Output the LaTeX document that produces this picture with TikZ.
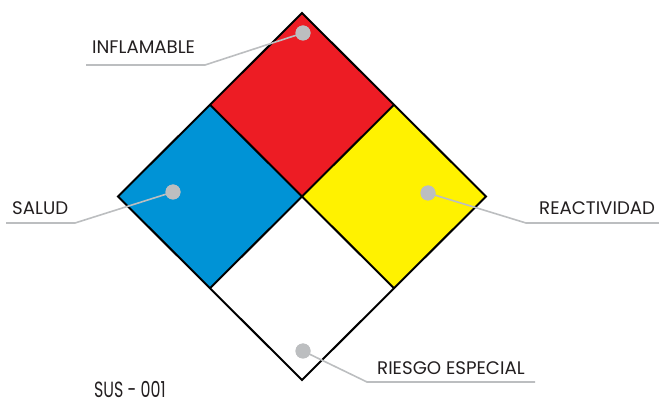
\documentclass[tikz,border=0pt]{standalone}
\usepackage{fontspec}
\setmainfont{Poppins}
\definecolor{nfred}{HTML}{ED1C24}
\definecolor{nfblue}{HTML}{0093D6}
\definecolor{nfyellow}{HTML}{FFF200}
\definecolor{leadgray}{HTML}{BCBEC0}
\definecolor{txt}{HTML}{231F20}
\begin{document}
\begin{tikzpicture}[x=1pt,y=-1pt,
  quad/.style={draw=black,line width=2pt,line join=miter},
  leader/.style={draw=leadgray,line width=1.6pt},
  dot/.style={circle,fill=leadgray,inner sep=0pt,minimum size=15pt},
  lbl/.style={anchor=base west,inner sep=0pt,text=txt,font=\fontsize{18.2}{18.2}\selectfont}]
\useasboundingbox (0,0) rectangle (659,403);
% vertices
\coordinate (T) at (302,13);
\coordinate (L) at (118,196.5);
\coordinate (R) at (486,196.5);
\coordinate (B) at (302,380);
\coordinate (C) at (302,196.5);
\coordinate (TL) at (210,104.75);
\coordinate (TR) at (394,104.75);
\coordinate (BL) at (210,288.25);
\coordinate (BR) at (394,288.25);
\fill[nfred] (T) -- (TR) -- (C) -- (TL) -- cycle;
\fill[nfblue] (TL) -- (C) -- (BL) -- (L) -- cycle;
\fill[nfyellow] (TR) -- (R) -- (BR) -- (C) -- cycle;
\fill[white] (C) -- (BR) -- (B) -- (BL) -- cycle;
\draw[quad] (TL) -- (BR) (TR) -- (BL);
\draw[quad] (T) -- (R) -- (B) -- (L) -- cycle;
% dots
\node[dot] (d1) at (303,33) {};
\node[dot] (d2) at (173,192) {};
\node[dot] (d3) at (428,193) {};
\node[dot] (d4) at (303,351) {};
% leader ends
\coordinate (k1) at (205,65);
\coordinate (e1) at (86,65);
\coordinate (k2) at (75,223);
\coordinate (e2) at (6,223);
\coordinate (k3) at (526,223);
\coordinate (e3) at (659,223);
\coordinate (k4) at (367,382);
\coordinate (e4) at (535,382);
\draw[leader] (d1.center) -- (k1) -- (e1);
\draw[leader] (d2.center) -- (k2) -- (e2);
\draw[leader] (d3.center) -- (k3) -- (e3);
\draw[leader] (d4.center) -- (k4) -- (e4);
\node[dot] at (303,33) {};
\node[dot] at (173,192) {};
\node[dot] at (428,193) {};
\node[dot] at (303,351) {};
% labels
\node[lbl] (l1) at (92,54) {INFLAMABLE};
\node[lbl] (l2) at (12,215) {SALUD};
\node[lbl] (l3) at (539,215) {REACTIVIDAD};
\node[lbl] (l4) at (377,374) {RIESGO ESPECIAL};
\node[lbl,xscale=0.72,font=\fontsize{22}{22}\selectfont] (l5) at (94,397.5) {SUS - 001};
\end{tikzpicture}
\end{document}
